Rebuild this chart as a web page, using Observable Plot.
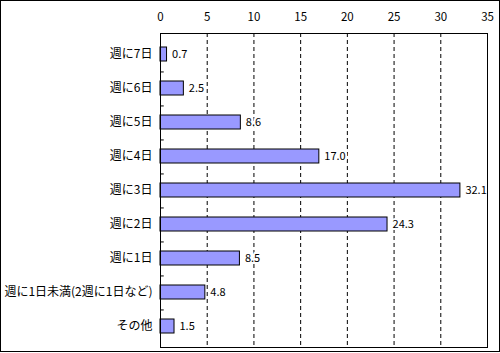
<!DOCTYPE html>
<html><head><meta charset="utf-8">
<script src="https://cdn.jsdelivr.net/npm/d3@7"></script>
<script src="https://cdn.jsdelivr.net/npm/@observablehq/plot@0.6"></script>
<style>
body{margin:0;background:#fff;}
#chart svg{display:block;outline:1px solid #000;outline-offset:-1px;}
</style>
</head><body><div id="chart"></div>
<script>
const categories = ["週に7日","週に6日","週に5日","週に4日","週に3日","週に2日","週に1日","週に1日未満(2週に1日など)","その他"];
const values = [0.7, 2.5, 8.6, 17.0, 32.1, 24.3, 8.5, 4.8, 1.5];
const xTicks = [0, 5, 10, 15, 20, 25, 30, 35];
const gridTicks = [5, 10, 15, 20, 25, 30];

const data = categories.map((c, i) => ({cat: c, value: values[i]}));
const boundaries = categories.slice(0, -1);

const plot = Plot.plot({
  width: 500,
  height: 352,
  marginLeft: 160,
  marginRight: 13,
  marginTop: 33,
  marginBottom: 5,
  style: {fontFamily: "'Noto Sans CJK JP', sans-serif", fontSize: "11px", color: "#000", background: "#fff"},
  x: {domain: [0, 35], axis: null, label: null},
  y: {domain: categories, paddingInner: 0.6, paddingOuter: 0.3, axis: null, label: null},
  marks: [
    Plot.ruleX(gridTicks, {x: d => d, stroke: "#000", strokeDasharray: "4,3", strokeWidth: 1}),
    Plot.axisX(xTicks, {anchor: "top", tickSize: 0, tickPadding: 13, fontSize: 11.5, label: null}),
    Plot.axisY({anchor: "left", tickSize: 0, tickPadding: 8, fontSize: 12, label: null}),
    Plot.ruleY(boundaries, {y: d => d, x1: 0, x2: 0.4, dy: 17.45, stroke: "#000"}),
    Plot.barX(data, {y: "cat", x: "value", fill: "#9999ff", stroke: "#000", strokeWidth: 1}),
    Plot.text(data, {y: "cat", x: "value", text: d => d.value.toFixed(1), textAnchor: "start", dx: 5, fill: "#000", stroke: "#fff", strokeWidth: 4, fontSize: 11}),
    Plot.frame({stroke: "#000"})
  ]
});
document.getElementById("chart").appendChild(plot);
</script>
</body></html>
